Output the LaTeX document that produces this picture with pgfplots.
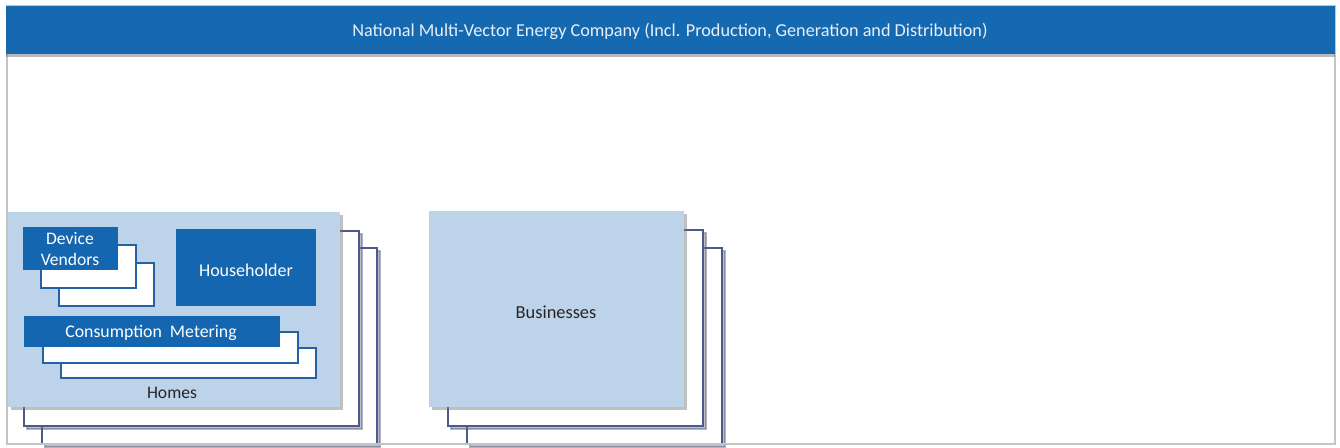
\documentclass[border=0pt]{standalone}
\usepackage{pgfplots}
\pgfplotsset{compat=1.18}
\usepackage{fontspec}
\setmainfont{Carlito}
\usetikzlibrary{shadows}
\definecolor{barblue}{HTML}{1569B1}
\definecolor{boxblue}{HTML}{1566B0}
\definecolor{lightblue}{HTML}{BCD3EA}
\definecolor{cardedge}{HTML}{4B5A8A}
\definecolor{framegray}{HTML}{C4C4C4}
\definecolor{titletext}{HTML}{E8EFF8}
\definecolor{darktext}{HTML}{262626}
\newcommand{\rect}[5]{\addplot[#1] coordinates {(#2,#3) (#4,#3) (#4,#5) (#2,#5)} -- cycle;}
\begin{document}
\begin{tikzpicture}
\begin{axis}[scale only axis, width=670pt, height=224pt,
  xmin=0, xmax=1340, ymin=0, ymax=448, y dir=reverse,
  hide axis, clip=false,
  cardshadow/.style={drop shadow={shadow xshift=1.5pt, shadow yshift=-1.5pt, opacity=0.45, fill=black!55}},
  whitecard/.style={fill=white, draw=cardedge, line width=0.6pt, line join=miter, cardshadow},
]
% page background (sets the picture's extent)
\rect{fill=white, draw=none}{0}{0}{1340}{448}
% outer frame
\rect{fill=white, draw=framegray, line width=1.2pt, line join=miter}{7}{6}{1335}{444}
% Homes stack
\rect{whitecard}{42}{248}{377}{444}
\rect{whitecard}{24}{231}{359}{426}
\rect{fill=lightblue, draw=none, cardshadow}{8}{212}{340}{407}
% Device vendors stack
\rect{fill=white, draw=boxblue!70!cardedge, line width=0.6pt}{59}{263}{154}{306}
\rect{fill=white, draw=boxblue!70!cardedge, line width=0.6pt}{41}{245}{136}{288}
\rect{fill=boxblue, draw=none}{23}{227}{118}{270}
% Householder
\rect{fill=boxblue, draw=none}{176}{229}{316}{306}
% Consumption metering stack
\rect{fill=white, draw=boxblue!70!cardedge, line width=0.6pt}{61}{348}{316}{378}
\rect{fill=white, draw=boxblue!70!cardedge, line width=0.6pt}{43}{332}{298}{363}
\rect{fill=boxblue, draw=none}{24}{316}{280}{347}
% Businesses stack
\rect{whitecard}{467}{248}{722}{444}
\rect{whitecard}{448}{230}{703}{426}
\rect{fill=lightblue, draw=none, cardshadow}{429}{211}{684}{407}
% frame border on top
\addplot[draw=framegray, line width=1.2pt] coordinates {(7,54) (7,444) (1335,444) (1335,54)};
% title bar
\rect{fill=barblue, draw=none, drop shadow={shadow xshift=0pt, shadow yshift=-1.5pt, opacity=0.45, fill=black!60}}{6}{6}{1335}{54}
% texts
\node[text=titletext, font=\fontsize{9.1}{10.5}\selectfont] at (axis cs:670,31) {National Multi-Vector Energy Company (Incl. Production,\ Generation and Distribution)};
\node[text=white, font=\fontsize{8.8}{10.4}\selectfont, align=center] at (axis cs:70,249) {Device\\Vendors};
\node[text=white, font=\fontsize{9}{10}\selectfont] at (axis cs:246,270) {Householder};
\node[text=white, font=\fontsize{8.9}{10}\selectfont] at (axis cs:151,333) {Consumption\ \ Metering};
\node[text=darktext, font=\fontsize{8.8}{10}\selectfont] at (axis cs:172,393) {Homes};
\node[text=darktext, font=\fontsize{9.2}{10}\selectfont] at (axis cs:556,312) {Businesses};
\end{axis}
\end{tikzpicture}
\end{document}
